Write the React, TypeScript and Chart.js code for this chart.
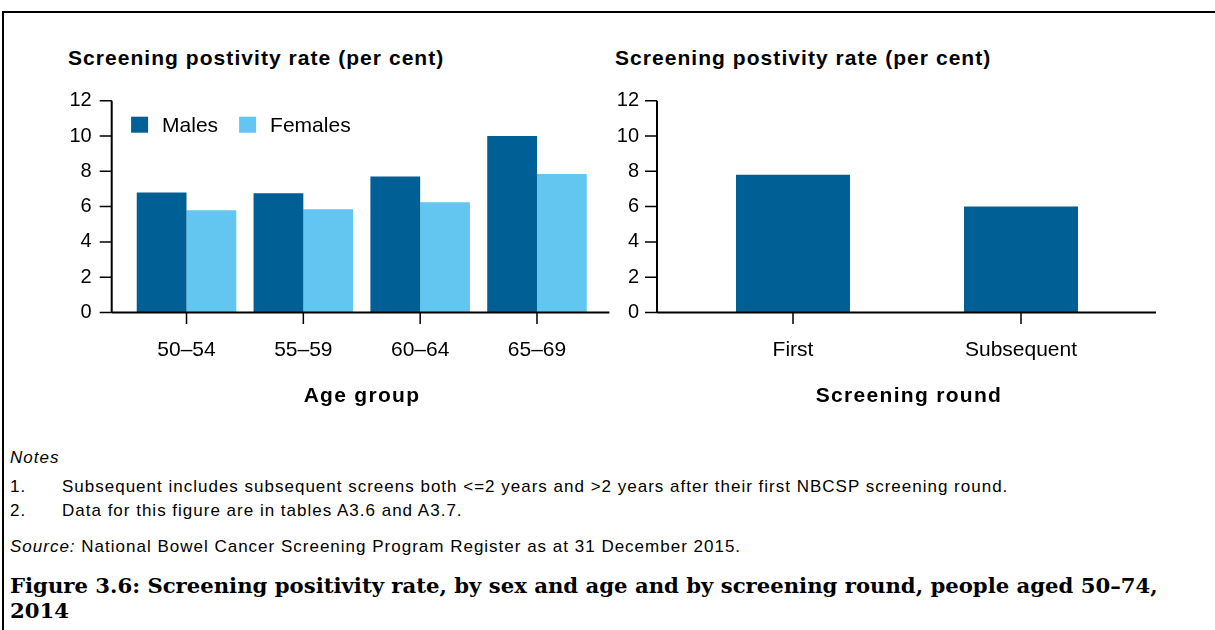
import React, { useEffect, useRef } from 'react';
import { Chart, registerables } from 'chart.js';

Chart.register(...registerables);

// ---- data ----
const ageGroups = ['50–54', '55–59', '60–64', '65–69'];
const malesRate = [6.8, 6.75, 7.7, 10.0];
const femalesRate = [5.8, 5.85, 6.25, 7.85];
const screeningRounds = ['First', 'Subsequent'];
const roundRate = [7.8, 6.0];
const yTickValues = [0, 2, 4, 6, 8, 10, 12];

const MALE_COLOR = '#005f94';
const FEMALE_COLOR = '#62c6f1';
const SANS = '"Liberation Sans", Arial, Helvetica, sans-serif';
const SERIF = '"DejaVu Serif", "Liberation Serif", serif';

Chart.defaults.font.family = SANS;
Chart.defaults.color = '#000';

const axesPlugin = {
  id: 'customAxes',
  afterDraw(chart: any, _args: any, opts: any) {
    const { ctx, chartArea, scales } = chart;
    const xs = scales.x;
    const ys = scales.y;
    const axisX = chartArea.left - opts.leftGap;
    const axisY = ys.getPixelForValue(0);
    const topY = ys.getPixelForValue(ys.max);
    const endX = chartArea.right + opts.rightGap;
    ctx.save();
    ctx.strokeStyle = '#000';
    ctx.lineWidth = 2;
    ctx.beginPath();
    ctx.moveTo(axisX, topY);
    ctx.lineTo(axisX, axisY);
    ctx.moveTo(axisX, axisY);
    ctx.lineTo(endX, axisY);
    ctx.stroke();
    ctx.lineWidth = 1.5;
    ctx.beginPath();
    for (const v of yTickValues) {
      const py = ys.getPixelForValue(v);
      ctx.moveTo(axisX - 12, py);
      ctx.lineTo(axisX, py);
    }
    const n = chart.data.labels.length;
    for (let i = 0; i < n; i++) {
      const px = xs.getPixelForValue(i);
      ctx.moveTo(px, axisY);
      ctx.lineTo(px, axisY + 11.5);
    }
    ctx.stroke();

    if (opts.legend) {
      ctx.font = `21px ${SANS}`;
      ctx.textBaseline = 'middle';
      ctx.textAlign = 'left';
      let lx = chartArea.left + 3;
      const ly = chartArea.top + 16;
      chart.data.datasets.forEach((ds: any) => {
        ctx.fillStyle = ds.backgroundColor;
        ctx.fillRect(lx, ly, 17, 16);
        ctx.fillStyle = '#000';
        ctx.fillText(ds.label, lx + 31, ly + 9.5);
        lx += 31 + ctx.measureText(ds.label).width + 21;
      });
    }
    ctx.restore();
  },
};

function makeScales(yWidth: number, yPad: number) {
  return {
    x: {
      grid: { display: false, drawTicks: false },
      border: { display: false },
      ticks: { font: { size: 21 }, color: '#000', padding: 25, maxRotation: 0 },
      afterFit: (s: any) => {
        s.height = 117.5;
      },
    },
    y: {
      min: 0,
      max: 12,
      afterBuildTicks: (s: any) => {
        s.ticks = yTickValues.map((v) => ({ value: v }));
      },
      grid: { display: false, drawTicks: false },
      border: { display: false },
      ticks: { font: { size: 20 }, color: '#000', padding: yPad },
      afterFit: (s: any) => {
        s.width = yWidth;
      },
    },
  };
}

function useChart(ref: React.RefObject<HTMLCanvasElement | null>, build: () => any) {
  useEffect(() => {
    if (!ref.current) return;
    const chart = new Chart(ref.current, build());
    return () => chart.destroy();
  }, []);
}

function AgeChart() {
  const ref = useRef<HTMLCanvasElement>(null);
  useChart(ref, () => ({
    type: 'bar',
    data: {
      labels: ageGroups,
      datasets: [
        { label: 'Males', data: malesRate, backgroundColor: MALE_COLOR, barPercentage: 1, categoryPercentage: 0.852 },
        { label: 'Females', data: femalesRate, backgroundColor: FEMALE_COLOR, barPercentage: 1, categoryPercentage: 0.852 },
      ],
    },
    options: {
      responsive: false,
      animation: false,
      events: [],
      layout: { padding: { top: 100.7, left: 0, right: 24.6, bottom: 0 } },
      plugins: {
        legend: { display: false },
        tooltip: { enabled: false },
        title: { display: false },
        customAxes: { leftGap: 16.4, rightGap: 14, legend: true },
      },
      scales: makeScales(128.1, 36.4),
    },
    plugins: [axesPlugin],
  }));
  return (
    <canvas
      ref={ref}
      width={620}
      height={430}
      style={{ position: 'absolute', left: 0, top: 0, width: 620, height: 430 }}
    />
  );
}

function RoundChart() {
  const ref = useRef<HTMLCanvasElement>(null);
  useChart(ref, () => ({
    type: 'bar',
    data: {
      labels: screeningRounds,
      datasets: [
        { label: 'Screening positivity rate', data: roundRate, backgroundColor: MALE_COLOR, barPercentage: 0.5, categoryPercentage: 1 },
      ],
    },
    options: {
      responsive: false,
      animation: false,
      events: [],
      layout: { padding: { top: 100.7, left: 0, right: 80, bottom: 0 } },
      plugins: {
        legend: { display: false },
        tooltip: { enabled: false },
        title: { display: false },
        customAxes: { leftGap: 22, rightGap: 21, legend: false },
      },
      scales: makeScales(79, 40),
    },
    plugins: [axesPlugin],
  }));
  return (
    <canvas
      ref={ref}
      width={615}
      height={430}
      style={{ position: 'absolute', left: 600, top: 0, width: 615, height: 430 }}
    />
  );
}

function Txt({
  left,
  cy,
  size,
  lh,
  children,
  style,
}: {
  left: number;
  cy: number;
  size: number;
  lh: number;
  children: React.ReactNode;
  style?: React.CSSProperties;
}) {
  return (
    <div
      style={{
        position: 'absolute',
        left,
        top: cy - lh / 2,
        height: lh,
        lineHeight: `${lh}px`,
        fontSize: size,
        fontFamily: SANS,
        color: '#000',
        whiteSpace: 'nowrap',
        ...style,
      }}
    >
      {children}
    </div>
  );
}

export default function App() {
  useEffect(() => {
    document.body.style.margin = '0';
    document.body.style.overflow = 'hidden';
  }, []);
  const titleStyle: React.CSSProperties = { fontWeight: 'bold', letterSpacing: '1.05px' };
  const axisTitleStyle: React.CSSProperties = { fontWeight: 'bold', letterSpacing: '1.3px', width: 260, textAlign: 'center' };
  const noteStyle: React.CSSProperties = { letterSpacing: '1px' };
  return (
    <div style={{ position: 'absolute', left: 0, top: 0, width: 1215, height: 630, background: '#fff', overflow: 'hidden' }}>
      <div
        style={{
          position: 'absolute',
          left: 2,
          top: 11,
          width: 1213,
          height: 619,
          borderTop: '2px solid #000',
          borderLeft: '2px solid #000',
          boxSizing: 'border-box',
        }}
      />
      <Txt left={68} cy={58} size={21} lh={26} style={titleStyle}>
        Screening postivity rate (per cent)
      </Txt>
      <Txt left={615} cy={58} size={21} lh={26} style={titleStyle}>
        Screening postivity rate (per cent)
      </Txt>
      <AgeChart />
      <RoundChart />
      <Txt left={232} cy={395} size={21} lh={26} style={axisTitleStyle}>
        Age group
      </Txt>
      <Txt left={779} cy={395} size={21} lh={26} style={axisTitleStyle}>
        Screening round
      </Txt>
      <Txt left={10} cy={458} size={17} lh={22} style={{ ...noteStyle, fontStyle: 'italic' }}>
        Notes
      </Txt>
      <Txt left={10} cy={487} size={17} lh={22} style={noteStyle}>
        1.
      </Txt>
      <Txt left={62} cy={487} size={17} lh={22} style={noteStyle}>
        Subsequent includes subsequent screens both &lt;=2 years and &gt;2 years after their first NBCSP screening round.
      </Txt>
      <Txt left={10} cy={511} size={17} lh={22} style={noteStyle}>
        2.
      </Txt>
      <Txt left={62} cy={511} size={17} lh={22} style={noteStyle}>
        Data for this figure are in tables A3.6 and A3.7.
      </Txt>
      <Txt left={10} cy={547} size={17} lh={22} style={noteStyle}>
        <i>Source:</i> National Bowel Cancer Screening Program Register as at 31 December 2015.
      </Txt>
      <Txt left={10} cy={585} size={21.2} lh={25} style={{ fontFamily: SERIF, fontWeight: 'bold' }}>
        Figure 3.6: Screening positivity rate, by sex and age and by screening round, people aged 50–74,
      </Txt>
      <Txt left={10} cy={610} size={21.2} lh={25} style={{ fontFamily: SERIF, fontWeight: 'bold' }}>
        2014
      </Txt>
    </div>
  );
}
